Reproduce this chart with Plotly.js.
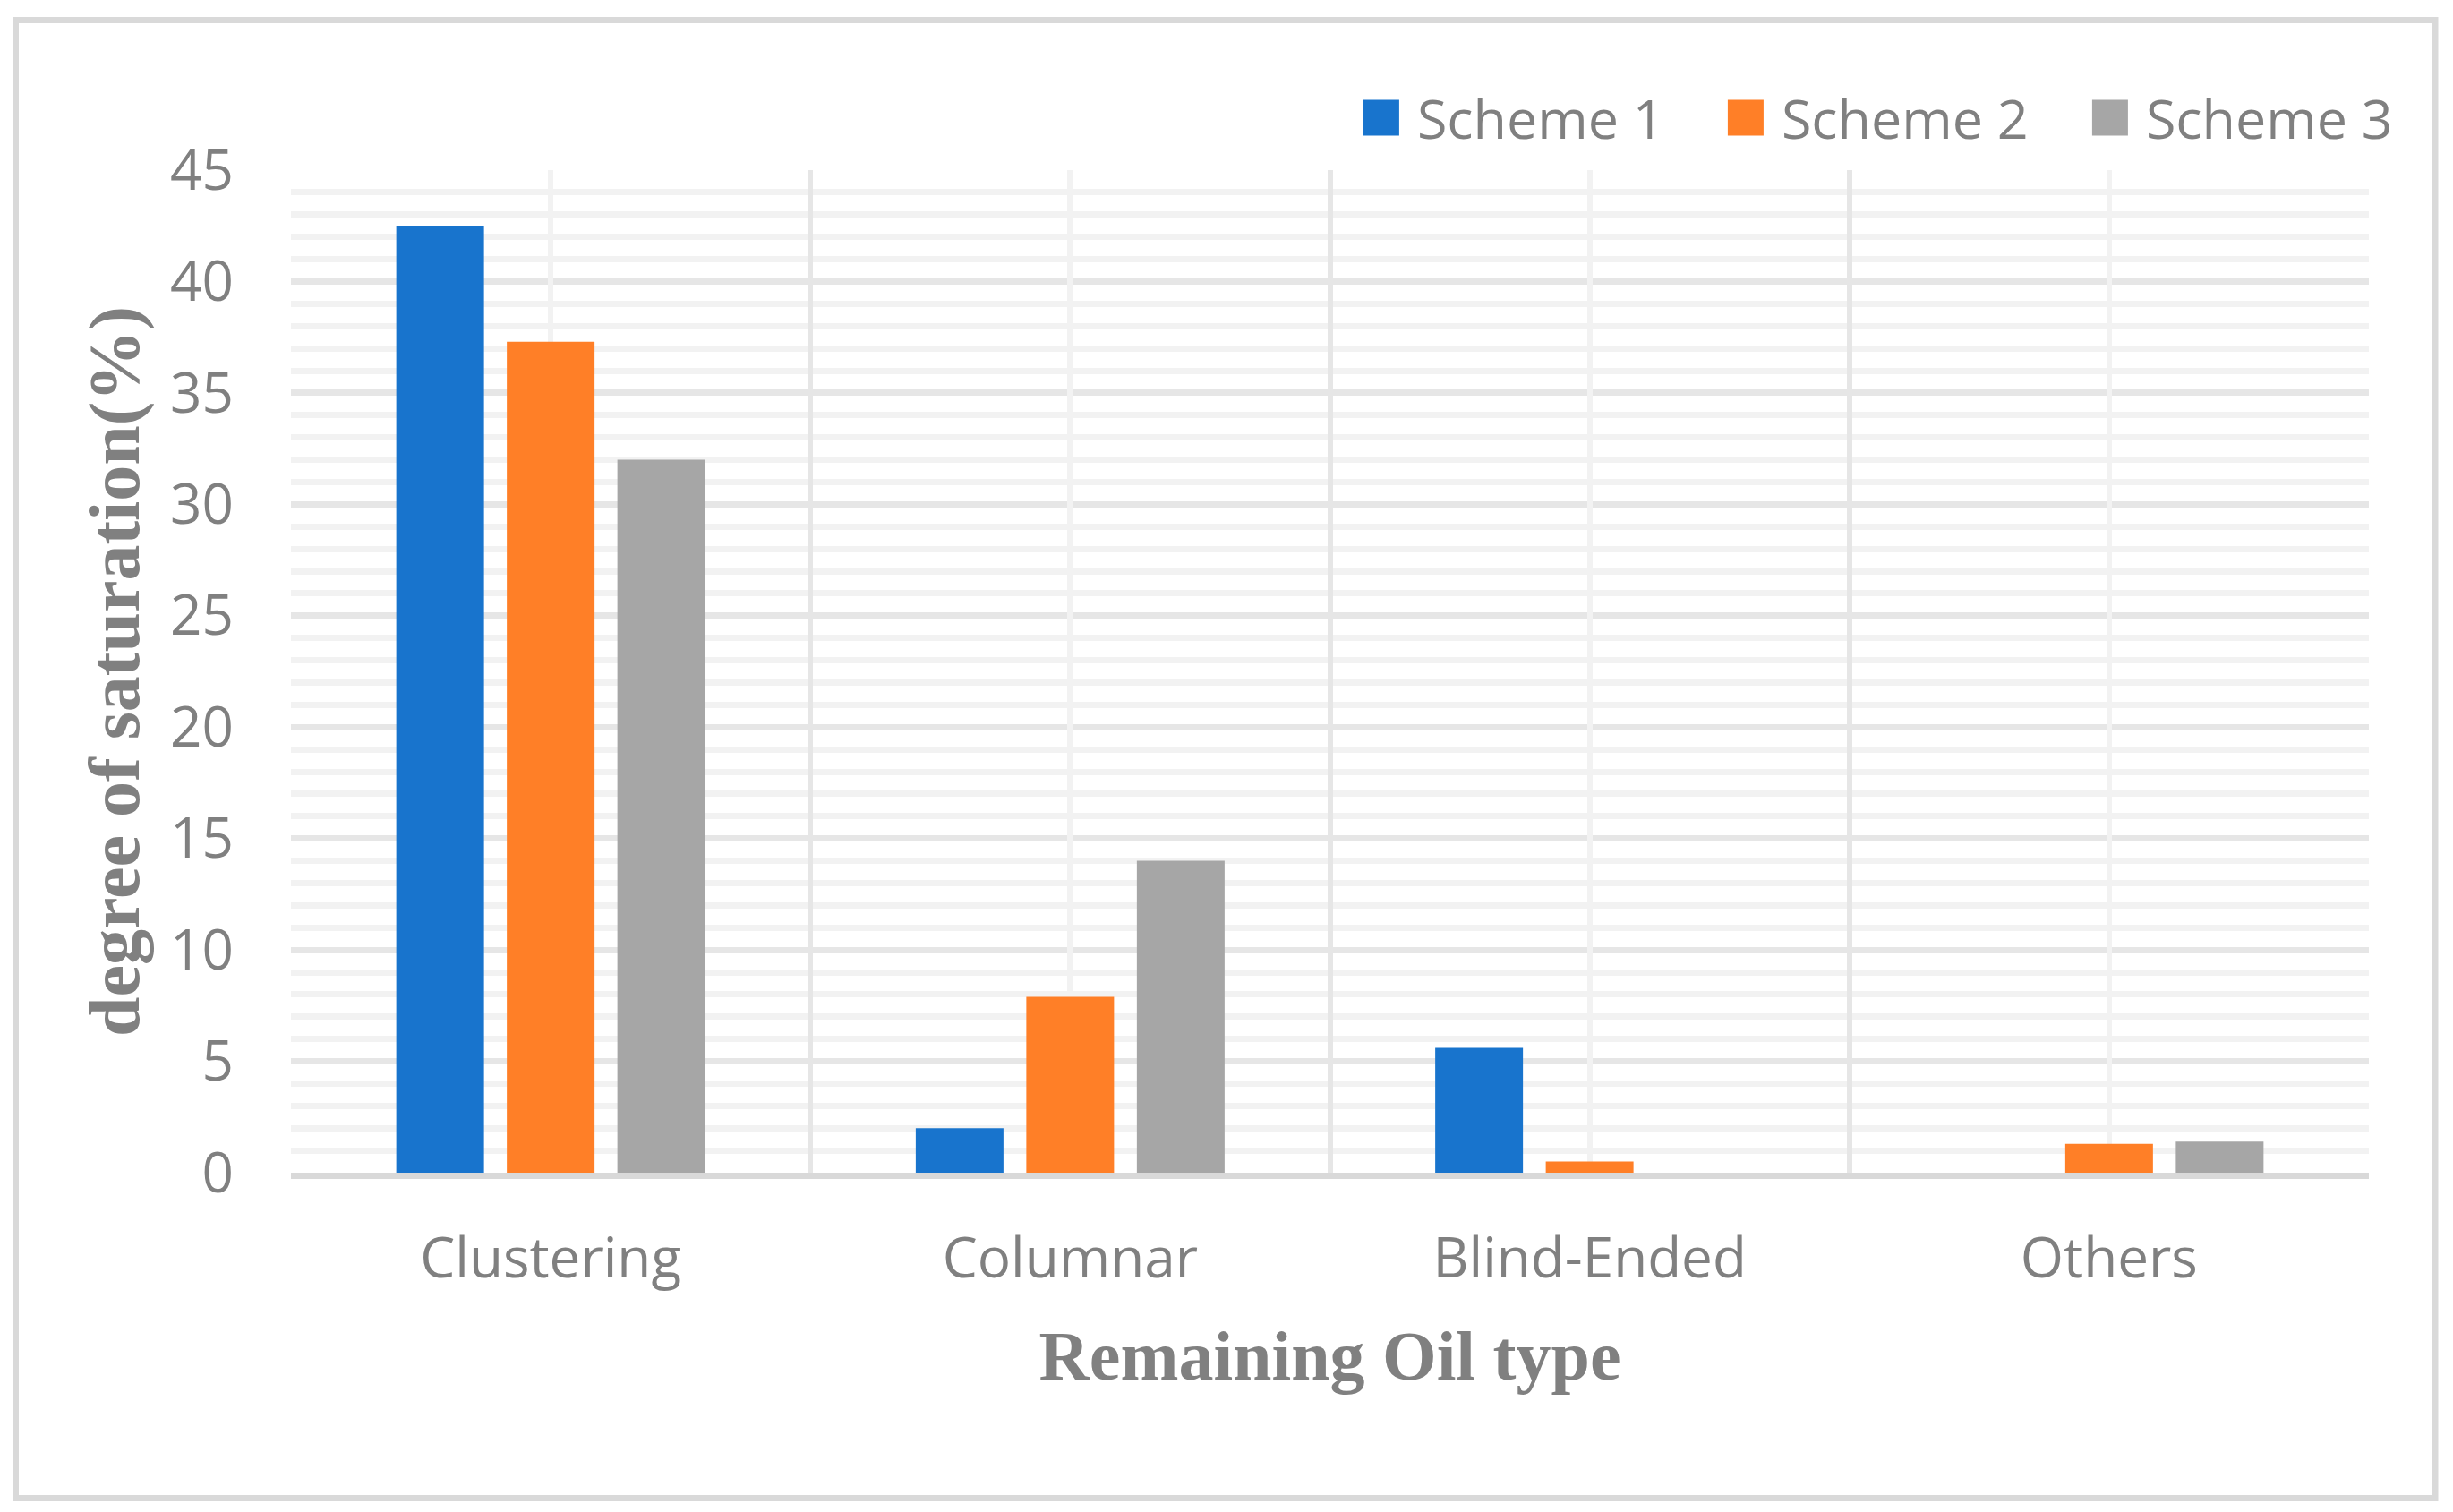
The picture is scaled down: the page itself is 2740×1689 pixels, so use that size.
<!DOCTYPE html>
<html>
<head>
<meta charset="utf-8">
<script src="https://cdn.plot.ly/plotly-3.0.1.min.js"></script>
<style>
  html, body { margin: 0; padding: 0; background: #ffffff; }
  #chart { width: 2740px; height: 1689px; }
</style>
</head>
<body>
<div id="chart"></div>
<script>
const categories = ['Clustering', 'Columnar', 'Blind-Ended', 'Others'];
const seriesNames = ['Scheme 1', 'Scheme 2', 'Scheme 3'];
const scheme1 = [42.5, 2.0, 5.6, 0];
const scheme2 = [37.3, 7.9, 0.5, 1.3];
const scheme3 = [32.0, 14.0, 0, 1.4];
const yTickVals = [0, 5, 10, 15, 20, 25, 30, 35, 40, 45];
const xTitle = 'Remaining Oil type';
const yTitle = 'degree of saturation(%)';

const colors = ['#1874cd', '#ff7f27', '#a6a6a6'];
const textGray = '#808080';
const sansFont = '"Open Sans", "Noto Sans", sans-serif';
const serifFont = '"Liberation Serif", "DejaVu Serif", serif';

const seriesValues = [scheme1, scheme2, scheme3];
const traces = seriesValues.map((vals, i) => ({
  type: 'bar',
  name: seriesNames[i],
  x: categories,
  y: vals,
  marker: { color: colors[i], line: { width: 0 } },
  hoverinfo: 'x+y+name'
}));

// helper trace (invisible) so the overlay axis knows the categories -> gridlines at category centres
traces.push({
  type: 'scatter',
  mode: 'markers',
  x: categories,
  y: categories.map(() => 0),
  xaxis: 'x2',
  yaxis: 'y',
  marker: { opacity: 0, size: 1 },
  showlegend: false,
  hoverinfo: 'skip'
});

const layout = {
  width: 2740,
  height: 1689,
  margin: { l: 325, r: 94, t: 190, b: 379 },
  paper_bgcolor: '#ffffff',
  plot_bgcolor: '#ffffff',
  barmode: 'group',
  bargap: 0.3615,
  bargroupgap: 0.2065,
  showlegend: true,
  legend: {
    orientation: 'h',
    x: 0.5075,
    xanchor: 'left',
    y: 1.052,
    yanchor: 'middle',
    font: { family: sansFont, size: 61, color: textGray },
    itemwidth: 70,
    entrywidth: 322,
    bgcolor: 'rgba(0,0,0,0)',
    borderwidth: 0,
    traceorder: 'normal'
  },
  xaxis: {
    type: 'category',
    categoryorder: 'array',
    categoryarray: categories,
    range: [-0.5, 3.5],
    tickson: 'boundaries',
    ticks: '',
    showgrid: true,
    gridcolor: '#e6e6e6',
    gridwidth: 6,
    showline: true,
    linecolor: '#d9d9d9',
    linewidth: 7,
    zeroline: false,
    tickfont: { family: sansFont, size: 62, color: textGray },
    ticklabelstandoff: 36,
    title: {
      text: xTitle,
      font: { family: serifFont, size: 78, color: textGray, weight: 'bold' },
      standoff: 44
    },
    fixedrange: true
  },
  xaxis2: {
    overlaying: 'x',
    anchor: 'y',
    type: 'category',
    categoryorder: 'array',
    categoryarray: categories,
    range: [-0.5, 3.5],
    showgrid: true,
    gridcolor: '#f2f2f2',
    gridwidth: 6,
    showticklabels: false,
    ticks: '',
    zeroline: false,
    showline: false,
    fixedrange: true
  },
  yaxis: {
    range: [0, 45],
    tickmode: 'array',
    tickvals: yTickVals,
    ticktext: yTickVals.map(String),
    ticks: '',
    showgrid: true,
    gridcolor: '#e6e6e6',
    gridwidth: 7,
    minor: { dtick: 1, tick0: 0, showgrid: true, gridcolor: '#f2f2f2', gridwidth: 7, ticks: '' },
    zeroline: false,
    showline: false,
    tickfont: { family: sansFont, size: 62, color: textGray },
    ticklabelstandoff: 63,
    title: {
      text: yTitle,
      font: { family: serifFont, size: 80, color: textGray, weight: 'bold' },
      standoff: 8
    },
    fixedrange: true
  },
  shapes: [{
    type: 'rect',
    xref: 'paper', yref: 'paper',
    x0: -0.13249, x1: 1.03188,
    y0: -0.32455, y1: 1.14955,
    line: { color: '#d9d9d9', width: 7 },
    fillcolor: 'rgba(0,0,0,0)',
    layer: 'below'
  }]
};

function enlargeLegendKeys() {
  document.querySelectorAll('#chart .legend .legendpoints path').forEach(function (p) {
    p.setAttribute('d', 'M20,20H-20V-20H20Z');
  });
}

Plotly.newPlot('chart', traces, layout, { displayModeBar: false, staticPlot: true }).then(function () {
  enlargeLegendKeys();
  setTimeout(enlargeLegendKeys, 50);
});
</script>
</body>
</html>
